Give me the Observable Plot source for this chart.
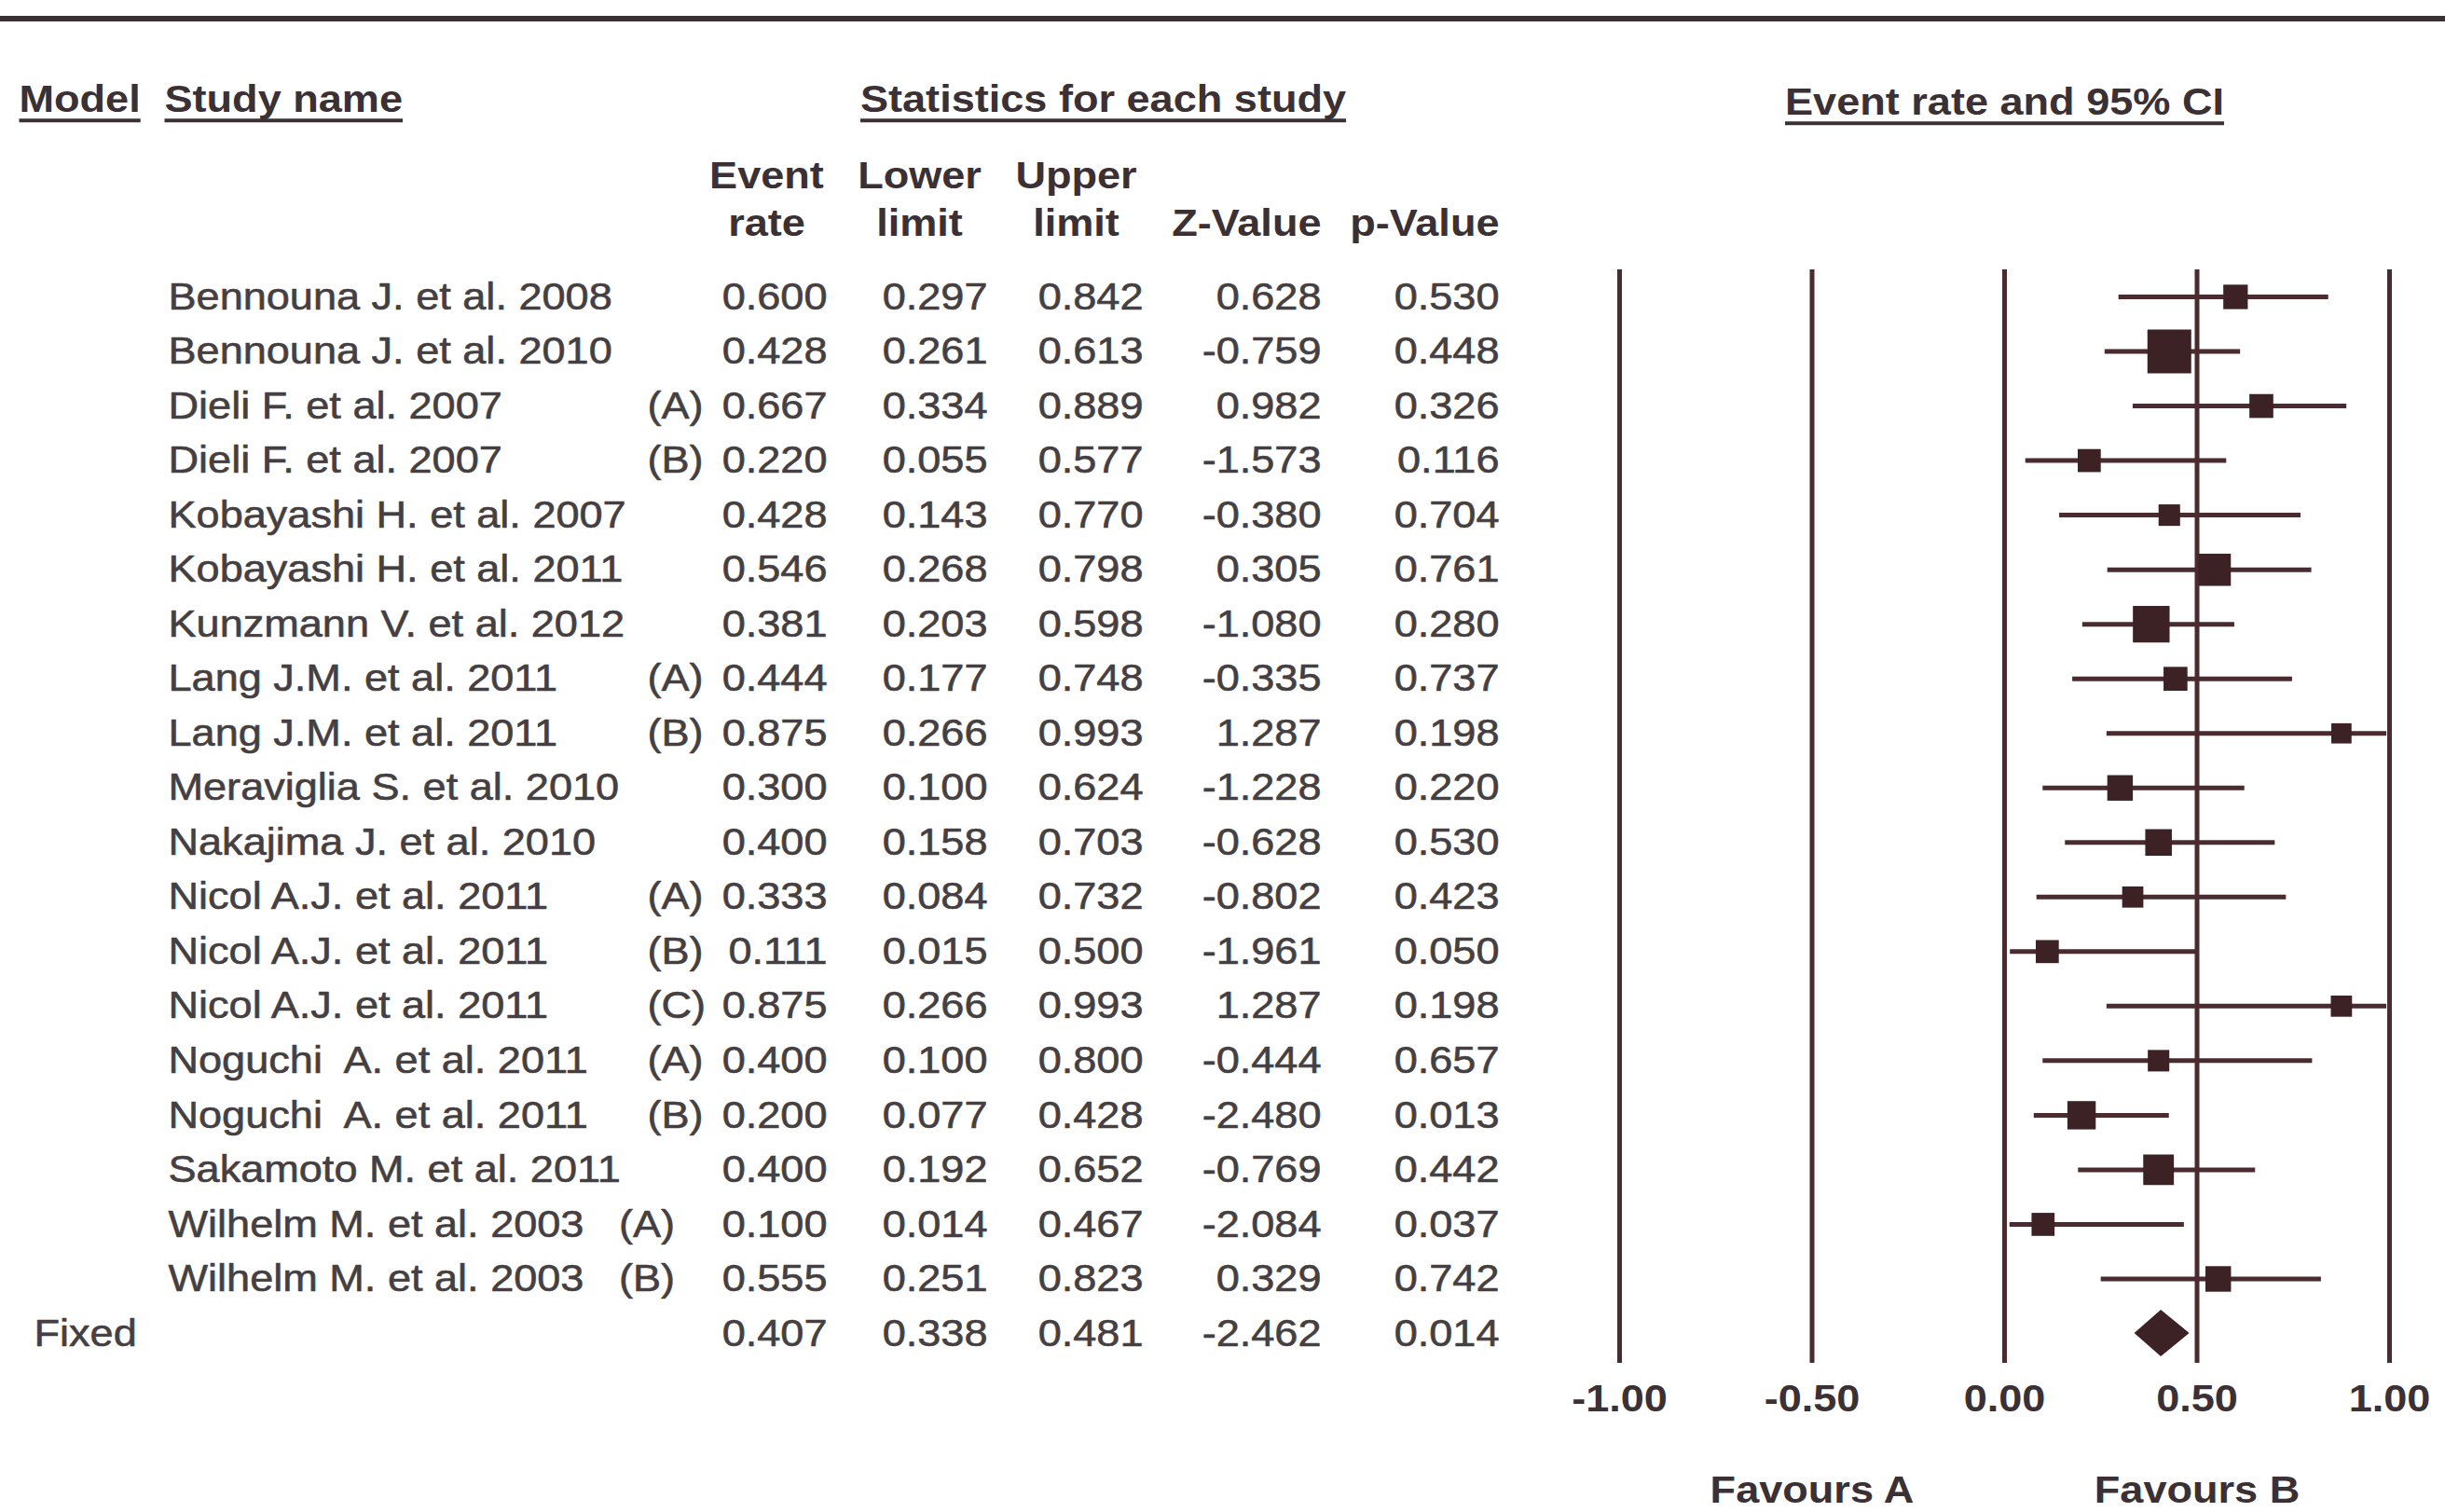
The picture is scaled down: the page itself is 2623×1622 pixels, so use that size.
<!DOCTYPE html>
<html>
<head>
<meta charset="utf-8">
<script src="https://cdn.jsdelivr.net/npm/d3@7"></script>
<script src="https://cdn.jsdelivr.net/npm/@observablehq/plot@0.6"></script>
<style>
  html, body { margin: 0; padding: 0; background: #ffffff; }
  #chart svg text { white-space: pre; }
</style>
</head>
<body>
<div id="chart"></div>
<script>
// ---------------- data ----------------
const studyNames = [
  "Bennouna J. et al. 2008",
  "Bennouna J. et al. 2010",
  "Dieli F. et al. 2007",
  "Dieli F. et al. 2007",
  "Kobayashi H. et al. 2007",
  "Kobayashi H. et al. 2011",
  "Kunzmann V. et al. 2012",
  "Lang J.M. et al. 2011",
  "Lang J.M. et al. 2011",
  "Meraviglia S. et al. 2010",
  "Nakajima J. et al. 2010",
  "Nicol A.J. et al. 2011",
  "Nicol A.J. et al. 2011",
  "Nicol A.J. et al. 2011",
  "Noguchi  A. et al. 2011",
  "Noguchi  A. et al. 2011",
  "Sakamoto M. et al. 2011",
  "Wilhelm M. et al. 2003   (A)",
  "Wilhelm M. et al. 2003   (B)"
];
const subgroups = ["", "", "(A)", "(B)", "", "", "", "(A)", "(B)", "", "", "(A)", "(B)", "(C)", "(A)", "(B)", "", "", ""];
const eventRate  = [0.600, 0.428, 0.667, 0.220, 0.428, 0.546, 0.381, 0.444, 0.875, 0.300, 0.400, 0.333, 0.111, 0.875, 0.400, 0.200, 0.400, 0.100, 0.555];
const lowerLimit = [0.297, 0.261, 0.334, 0.055, 0.143, 0.268, 0.203, 0.177, 0.266, 0.100, 0.158, 0.084, 0.015, 0.266, 0.100, 0.077, 0.192, 0.014, 0.251];
const upperLimit = [0.842, 0.613, 0.889, 0.577, 0.770, 0.798, 0.598, 0.748, 0.993, 0.624, 0.703, 0.732, 0.500, 0.993, 0.800, 0.428, 0.652, 0.467, 0.823];
const zValues    = [0.628, -0.759, 0.982, -1.573, -0.380, 0.305, -1.080, -0.335, 1.287, -1.228, -0.628, -0.802, -1.961, 1.287, -0.444, -2.480, -0.769, -2.084, 0.329];
const pValues    = [0.530, 0.448, 0.326, 0.116, 0.704, 0.761, 0.280, 0.737, 0.198, 0.220, 0.530, 0.423, 0.050, 0.198, 0.657, 0.013, 0.442, 0.037, 0.742];
// relative weights (estimated from the square sizes)
const weights    = [4.4, 14.1, 4.2, 3.9, 3.4, 7.6, 9.9, 4.2, 3.0, 4.8, 5.2, 3.3, 3.9, 3.3, 3.4, 5.9, 6.9, 3.9, 4.8];

const fixedModel = "Fixed";
const fixedEventRate = 0.407, fixedLower = 0.338, fixedUpper = 0.481, fixedZ = -2.462, fixedP = 0.014;

const xTicks = [-1, -0.5, 0, 0.5, 1];
const favourLabels = ["Favours A", "Favours B"];

const headerTitles = ["Model", "Study name", "Statistics for each study"];
const plotTitle = "Event rate and 95% CI";
const colHeadLine1 = ["Event", "Lower", "Upper"];
const colHeadLine2 = ["rate", "limit", "limit"];
const colHeadRight = ["Z-Value", "p-Value"];

// ---------------- table built from arrays ----------------
const rows = studyNames.map((name, i) => ({
  i, name, sub: subgroups[i], er: eventRate[i], lo: lowerLimit[i], hi: upperLimit[i],
  z: zValues[i], p: pValues[i], w: weights[i]
}));
const fixedRow = {i: rows.length, model: fixedModel, name: "", sub: "", er: fixedEventRate, lo: fixedLower, hi: fixedUpper, z: fixedZ, p: fixedP};
const tableRows = [...rows, fixedRow];

// ---------------- layout & style ----------------
const W = 2623, H = 1622;
const FS = 41;          // font size (glyph height)
const SX = 1.1;         // horizontal stretch of the scanned type
const font = "'Liberation Sans', Arial, Helvetica, sans-serif";
const TEXT = "#453f42";
const HEAD = "#3b3033";
const LINE = "#4a2b2f";
const INK = "#3d2225";

const plotTop = 289, plotBottom = 1462;
const firstRowY = 318, lastRowY = 1430;
const xLeft = 1737, xRight = 2563;
const rowStep = (lastRowY - firstRowY) / (tableRows.length - 1);
const maxSquare = 47;              // px side of the largest square
const diamondHalf = 25 / rowStep;  // half-height in row units

const colModel = 36, colName = 180, colSub = 694;
const colER = 887, colLo = 1059, colHi = 1226, colZ = 1417, colP = 1608;
const titleDx = [20, 176, 1183];
const titleDy = 106 - plotTop;
const plotTitleDy = 109 - plotTop;
const headCenters = [822, 986, 1154];
const headRights = [colZ, colP];
const line1Dy = 188 - plotTop, line2Dy = 239 - plotTop;
const tickDy = 1500 - plotBottom, favourDy = 1598 - plotBottom;

const fmt3 = v => v.toFixed(3);

const headStyle = {fontWeight: "bold", fill: HEAD, fontSize: FS, lineAnchor: "middle"};
const bodyStyle = {fill: TEXT, stroke: TEXT, strokeWidth: 0.6, fontSize: FS, lineAnchor: "middle"};

function col(key, dx) {
  return Plot.text(tableRows, {y: "i", frameAnchor: "left", dx, text: d => fmt3(d[key]),
    textAnchor: "end", ...bodyStyle});
}

const xMid = (xTicks[0] + xTicks[xTicks.length - 1]) / 2;
const favourX = [(xTicks[0] + xMid) / 2, (xMid + xTicks[xTicks.length - 1]) / 2];

const diamond = [
  {y: fixedRow.i - diamondHalf, x1: fixedRow.er, x2: fixedRow.er},
  {y: fixedRow.i, x1: fixedRow.lo, x2: fixedRow.hi},
  {y: fixedRow.i + diamondHalf, x1: fixedRow.er, x2: fixedRow.er}
];

const chart = Plot.plot({
  width: W, height: H,
  marginTop: plotTop, marginBottom: H - plotBottom, marginLeft: 0, marginRight: 0,
  style: {fontFamily: font, fontSize: FS + "px", background: "#ffffff", overflow: "visible"},
  x: {domain: [xTicks[0], xTicks[xTicks.length - 1]], range: [xLeft, xRight], axis: null},
  y: {domain: [0, tableRows.length - 1], range: [firstRowY, lastRowY], axis: null},
  r: {type: "sqrt", domain: [0, d3.max(weights)], range: [0, maxSquare / Math.sqrt(Math.PI)]},
  marks: [
    // vertical reference lines
    Plot.ruleX(xTicks, {x: d => d, stroke: LINE, strokeWidth: 5}),
    // tick labels
    Plot.text(xTicks, {x: d => d, frameAnchor: "bottom", dy: tickDy, text: d => d.toFixed(2), ...headStyle}),
    // favours labels
    Plot.text(favourLabels, {x: (d, i) => favourX[i], frameAnchor: "bottom", dy: favourDy, text: d => d, ...headStyle}),
    // confidence intervals
    Plot.ruleY(rows, {y: "i", x1: "lo", x2: "hi", stroke: LINE, strokeWidth: 5}),
    // point estimates
    Plot.dot(rows, {x: "er", y: "i", r: "w", symbol: "square", fill: INK, stroke: null}),
    // pooled diamond
    Plot.areaX(diamond, {y: "y", x1: "x1", x2: "x2", fill: INK, curve: "linear"}),
    // table: names & numbers
    Plot.text(tableRows, {y: "i", frameAnchor: "left", dx: colName, text: "name", textAnchor: "start", ...bodyStyle}),
    Plot.text(tableRows, {y: "i", frameAnchor: "left", dx: colSub, text: "sub", textAnchor: "start", ...bodyStyle}),
    Plot.text([fixedRow], {y: "i", frameAnchor: "left", dx: colModel, text: "model", textAnchor: "start", ...bodyStyle}),
    col("er", colER), col("lo", colLo), col("hi", colHi), col("z", colZ), col("p", colP),
    // section titles (underlined)
    ...headerTitles.map((t, i) => Plot.text([t], {frameAnchor: "top-left", dx: titleDx[i], dy: titleDy,
      text: d => d, textAnchor: i === 2 ? "middle" : "start", ...headStyle})),
    Plot.text([plotTitle], {x: () => xMid, frameAnchor: "top", dy: plotTitleDy, text: d => d,
      textAnchor: "middle", ...headStyle}),
    // column headers
    ...colHeadLine1.map((t, i) => Plot.text([t], {frameAnchor: "top-left", dx: headCenters[i], dy: line1Dy,
      text: d => d, textAnchor: "middle", ...headStyle})),
    ...colHeadLine2.map((t, i) => Plot.text([t], {frameAnchor: "top-left", dx: headCenters[i], dy: line2Dy,
      text: d => d, textAnchor: "middle", ...headStyle})),
    ...colHeadRight.map((t, i) => Plot.text([t], {frameAnchor: "top-left", dx: headRights[i], dy: line2Dy,
      text: d => d, textAnchor: "end", ...headStyle}))
  ]
});

document.getElementById("chart").appendChild(chart);
const svgNode = chart.tagName.toLowerCase() === "svg" ? chart : chart.querySelector("svg");
const svg = d3.select(svgNode);

// widen the type about each text's own anchor point (the scanned type is broad)
svg.selectAll("text").each(function() {
  const t = d3.select(this);
  const x = parseFloat(t.attr("x")) || 0, y = parseFloat(t.attr("y")) || 0;
  const tr = t.attr("transform") || "";
  t.attr("transform", `${tr} translate(${x},${y}) scale(${SX},1) translate(${-x},${-y})`);
});

// decorations: top rule and header underlines
svg.insert("line", ":first-child")
  .attr("x1", 0).attr("x2", W).attr("y1", 20).attr("y2", 20)
  .attr("stroke", HEAD).attr("stroke-width", 6);
const underlined = new Set([...headerTitles, plotTitle]);
const sr = svgNode.getBoundingClientRect();
svg.selectAll("text").filter(function() { return underlined.has(this.textContent); }).each(function() {
  const r = this.getBoundingClientRect();
  svg.append("line")
    .attr("x1", r.left - sr.left).attr("x2", r.right - sr.left)
    .attr("y1", r.bottom - sr.top + 1).attr("y2", r.bottom - sr.top + 1)
    .attr("stroke", HEAD).attr("stroke-width", 4);
});
</script>
</body>
</html>
